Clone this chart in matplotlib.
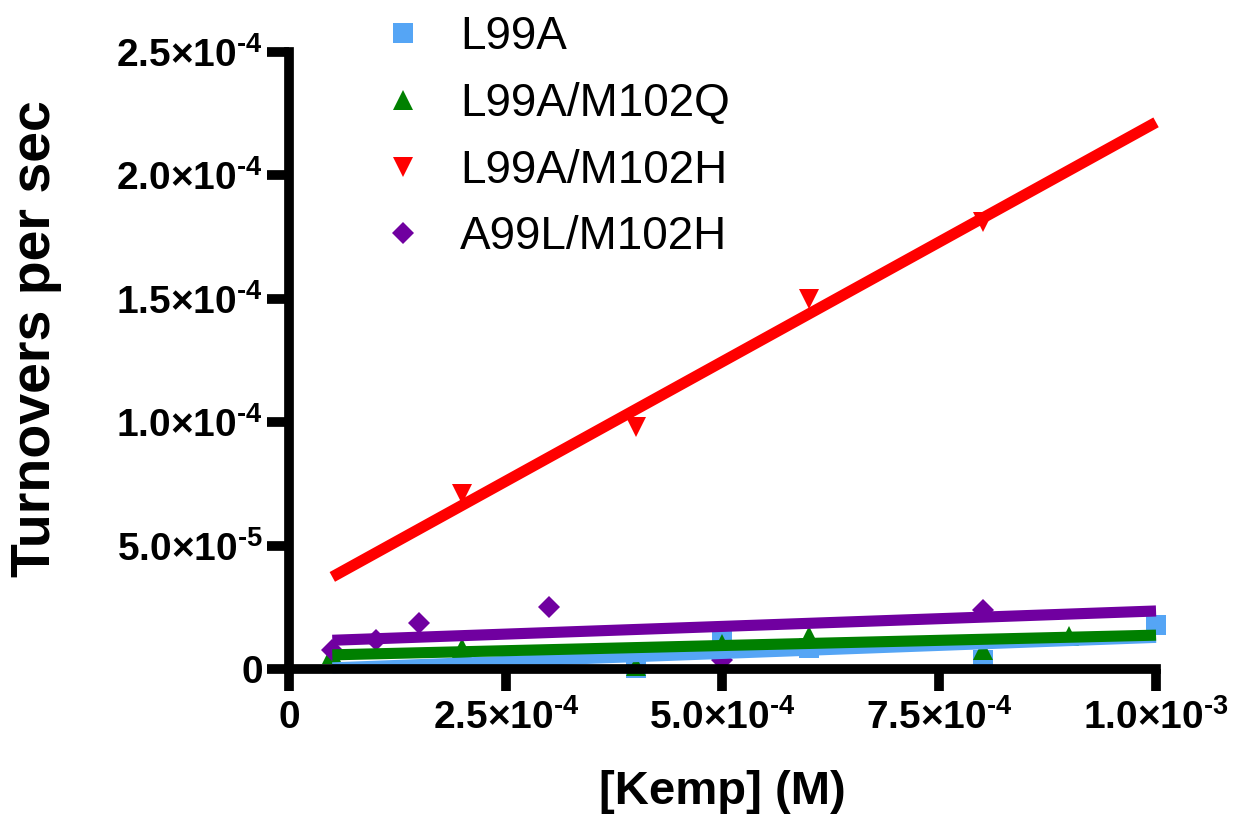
import matplotlib
matplotlib.use('Agg')
import matplotlib.pyplot as plt
from matplotlib.ticker import FixedLocator, FuncFormatter
import numpy as np

plt.rcParams['font.family'] = ['Liberation Sans', 'DejaVu Sans']
plt.rcParams['mathtext.fontset'] = 'custom'
plt.rcParams['mathtext.rm'] = 'Liberation Sans:bold'
plt.rcParams['mathtext.it'] = 'Liberation Sans:bold'
plt.rcParams['mathtext.bf'] = 'Liberation Sans:bold'

# values
series_names = ['L99A', 'L99A/M102Q', 'L99A/M102H', 'A99L/M102H']

l99a_x = [4e-4, 5e-4, 6e-4, 8e-4, 1e-3]
l99a_y = [0.5e-6, 1.5e-5, 8.5e-6, 3.5e-6, 1.8e-5]

m102q_x = [5e-5, 2e-4, 4e-4, 5e-4, 6e-4, 8e-4, 9e-4]
m102q_y = [6e-6, 8.5e-6, 1e-6, 1e-5, 1.35e-5, 7.5e-6, 1.35e-5]

m102h_x = [2e-4, 4e-4, 6e-4, 8e-4]
m102h_y = [7.1e-5, 9.8e-5, 1.5e-4, 1.81e-4]

a99l_x = [5e-5, 1e-4, 1.5e-4, 3e-4, 5e-4, 8e-4]
a99l_y = [7.7e-6, 1.17e-5, 1.86e-5, 2.51e-5, 3.6e-6, 2.4e-5]

# linear fits (slope, intercept) as drawn
fit_slope = [1.3e-2, 8.4e-3, 0.1939, 1.25e-2]
fit_intercept = [-2e-7, 5.3e-6, 2.76e-5, 1.1e-5]
fit_range = [5e-5, 1e-3]

colors = ['#55a5f5', '#008000', '#ff0000', '#7000a0']
markers = ['s', '^', 'v', 'D']
msizes = [14, 15, 15, 11]

xs = [l99a_x, m102q_x, m102h_x, a99l_x]
ys = [l99a_y, m102q_y, m102h_y, a99l_y]


def sci_label(v, pos):
    if v == 0:
        return r'$\mathrm{0}$'
    exp = int(np.floor(np.log10(abs(v)) + 1e-9))
    mant = v / 10 ** exp
    # short hyphen in the exponent, like the original
    return r'$\mathrm{%.1f{\times}10^{‐%d}}$' % (mant, -exp)


fig = plt.figure(figsize=(12.38, 8.19), dpi=100)
ax = fig.add_axes([0.2334, 0.1832, 0.7004, 0.7533])

handles = []
for i in range(4):
    h, = ax.plot(xs[i], ys[i], linestyle='none', marker=markers[i], ms=msizes[i],
                 color=colors[i], markeredgewidth=0, clip_on=False, zorder=2,
                 label=series_names[i])
    handles.append(h)

fx = np.array(fit_range)
for i in [0, 1, 2, 3]:
    ax.plot(fx, fit_slope[i] * fx + fit_intercept[i], color=colors[i], lw=8,
            solid_capstyle='butt', zorder=2.2, clip_on=False)

ax.set_xlim(0, 1e-3)
ax.set_ylim(0, 2.5e-4)
ax.xaxis.set_major_locator(FixedLocator([0, 2.5e-4, 5e-4, 7.5e-4, 1e-3]))
ax.yaxis.set_major_locator(FixedLocator([0, 5e-5, 1e-4, 1.5e-4, 2e-4, 2.5e-4]))
ax.xaxis.set_major_formatter(FuncFormatter(sci_label))
ax.yaxis.set_major_formatter(FuncFormatter(sci_label))

for s in ['top', 'right']:
    ax.spines[s].set_visible(False)
for s in ['left', 'bottom']:
    ax.spines[s].set_linewidth(7)
ax.tick_params(axis='both', direction='out', length=16, width=7, labelsize=28)
ax.tick_params(axis='x', pad=6)
ax.tick_params(axis='y', pad=3)

ax.set_ylabel('Turnovers per sec', fontsize=40, fontweight='bold')
ax.yaxis.set_label_coords(-0.262, 0.535)
ax.set_xlabel('[Kemp] (M)', fontsize=34, fontweight='bold')
ax.xaxis.set_label_coords(0.5, -0.163)

ax.legend(handles=handles, loc='upper left', bbox_to_anchor=(380 / 1238, 0.982),
          bbox_transform=fig.transFigure, frameon=False, fontsize=33,
          handlelength=1.0, handletextpad=0.75, labelspacing=0.5,
          borderpad=0, borderaxespad=0)

fig.savefig('out.png', dpi=100)
